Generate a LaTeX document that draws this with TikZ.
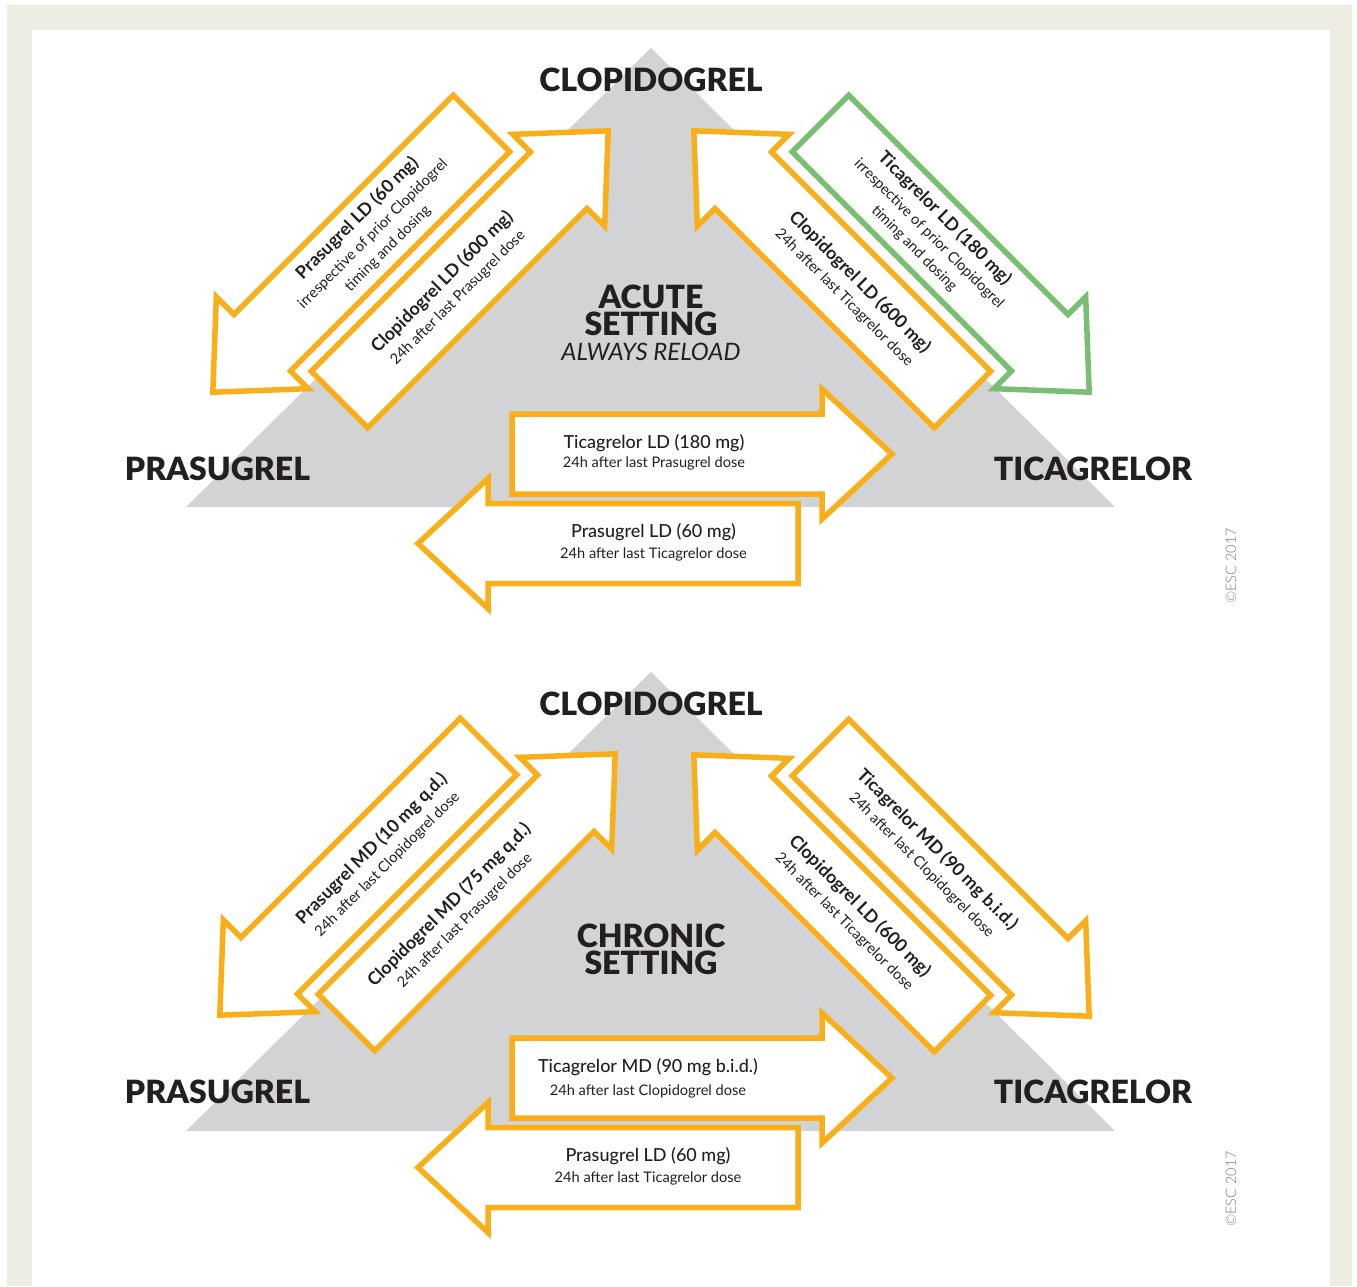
\documentclass[tikz,border=0pt]{standalone}
\usepackage{fontspec}
\setmainfont{Lato}
\IfFontExistsTF{Lato Black}{\newfontfamily\hvfont{Lato Black}}{%
  \IfFontExistsTF{Lato-Black.ttf}{\newfontfamily\hvfont{Lato-Black.ttf}}{%
    \IfFontExistsTF{Lato Heavy}{\newfontfamily\hvfont{Lato Heavy}}{\newcommand\hvfont{\bfseries}}}}
\IfFontExistsTF{Lato Medium}{\newfontfamily\mdfont{Lato Medium}}{\newcommand\mdfont{}}
\IfFontExistsTF{Lato Light}{\newfontfamily\ltfont{Lato Light}}{\newcommand\ltfont{}}
\definecolor{beige}{RGB}{238,237,227}
\definecolor{tri}{RGB}{209,211,212}
\definecolor{org}{RGB}{250,175,25}
\definecolor{grn}{RGB}{122,190,116}
\definecolor{ink}{RGB}{35,31,32}
\definecolor{cpy}{RGB}{125,125,125}
\tikzset{
  barrow/.pic={\path[pic actions] (0,-40) -- (310,-40) -- (310,-65) -- (380,0) -- (310,65) -- (310,40) -- (0,40) -- cycle;},
  ora/.style={draw=org, fill=white, line width=5.5pt, line join=miter, miter limit=10},
  gra/.style={draw=grn, fill=white, line width=5.5pt, line join=miter, miter limit=10},
  drug/.style={font=\hvfont\fontsize{32}{34}\selectfont, text=ink, inner sep=0pt},
  setting/.style={font=\hvfont\fontsize{32}{34}\selectfont, text=ink, inner sep=0pt},
  diag/.style={font=\fontsize{14.7}{21}\selectfont, text=ink, align=center, inner sep=0pt},
  hbig/.style={font=\mdfont\fontsize{18}{20}\selectfont, text=ink, inner sep=0pt, anchor=base},
  hsmall/.style={font=\fontsize{14.6}{16}\selectfont, text=ink, inner sep=0pt, anchor=base},
  cpyr/.style={font=\ltfont\fontsize{14.5}{16}\selectfont, text=cpy, inner sep=0pt, rotate=90},
  tria/.style={fill=tri}
}
\newcommand\bl[1]{{\bfseries\fontsize{17.8}{21}\selectfont #1}}
\begin{document}
\begin{tikzpicture}[x=1pt,y=-1pt]
\fill[white] (0,0) rectangle (1357,1286);
\fill[beige] (7,5) rectangle (1352,1286);
\fill[white] (32,30) rectangle (1330,1286);
\useasboundingbox (0,0) rectangle (1357,1286);

% ================= ACUTE =================
\fill[tria] (651,48) -- (186,507) -- (1115,507) -- cycle;
\pic[ora, rotate=225] (a1) at (481.5,123.5) {barrow};
\pic[ora, rotate=45] (a2) at (339.5,399.5) {barrow};
\pic[ora, rotate=135] (a3) at (962.5,399.5) {barrow};
\pic[gra, rotate=-45] (a4) at (820.5,123.5) {barrow};
\pic[ora, rotate=0] (a5) at (512,454) {barrow};
\pic[ora, rotate=180] (a6) at (798,543.5) {barrow};

\node[drug] (clo1) at (651,80) {CLOPIDOGREL};
\node[drug] (pra1) at (217.5,469) {PRASUGREL};
\node[drug] (tic1) at (1093,469) {TICAGRELOR};
\node[setting] (acu) at (651,296.5) {ACUTE};
\node[setting] (set1) at (651,323.5) {SETTING};
\node[font=\itshape\fontsize{24}{26}\selectfont, text=ink, inner sep=0pt] (rel) at (651,352) {ALWAYS RELOAD};

\node[diag, rotate=45] (t1) at (372,233) {\bl{Prasugrel LD (60 mg)}\\irrespective of prior Clopidogrel\\timing and dosing};
\node[diag, rotate=45] (t2) at (449.5,289.5) {\bl{Clopidogrel LD (600 mg)}\\24h after last Prasugrel dose};
\node[diag, rotate=-45] (t3) at (852.5,289.5) {\bl{Clopidogrel LD (600 mg)}\\24h after last Ticagrelor dose};
\node[diag, rotate=-45] (t4) at (930,233) {\bl{Ticagrelor LD (180 mg)}\\irrespective of prior Clopidogrel\\timing and dosing};
\node[hbig] (t5a) at (654,448) {Ticagrelor LD (180 mg)};
\node[hsmall] (t5b) at (654,467) {24h after last Prasugrel dose};
\node[hbig] (t6a) at (653.5,537) {Prasugrel LD (60 mg)};
\node[hsmall] (t6b) at (653.5,558) {24h after last Ticagrelor dose};
\node[cpyr] (c1) at (1231,566) {\textcopyright ESC 2017};

% ================= CHRONIC =================
\fill[tria] (651,672) -- (186,1131) -- (1115,1131) -- cycle;
\pic[ora, rotate=225] (b1) at (488.5,746.5) {barrow};
\pic[ora, rotate=45] (b2) at (346.5,1022.5) {barrow};
\pic[ora, rotate=135] (b3) at (962.5,1023.5) {barrow};
\pic[ora, rotate=-45] (b4) at (820.5,747.5) {barrow};
\pic[ora, rotate=0] (b5) at (512,1078) {barrow};
\pic[ora, rotate=180] (b6) at (798,1167.5) {barrow};

\node[drug] (clo2) at (651,704) {CLOPIDOGREL};
\node[drug] (pra2) at (217.5,1092) {PRASUGREL};
\node[drug] (tic2) at (1093,1092) {TICAGRELOR};
\node[setting] (chr) at (651,935.5) {CHRONIC};
\node[setting] (set2) at (651,962.5) {SETTING};

\node[diag, rotate=45] (u1) at (379,856) {\bl{Prasugrel MD (10 mg q.d.)}\\24h after last Clopidogrel dose};
\node[diag, rotate=45] (u2) at (456.5,912.5) {\bl{Clopidogrel MD (75 mg q.d.)}\\24h after last Prasugrel dose};
\node[diag, rotate=-45] (u3) at (852.5,913.5) {\bl{Clopidogrel LD (600 mg)}\\24h after last Ticagrelor dose};
\node[diag, rotate=-45] (u4) at (930,857) {\bl{Ticagrelor MD (90 mg b.i.d.)}\\24h after last Clopidogrel dose};
\node[hbig] (u5a) at (648,1072) {Ticagrelor MD (90 mg b.i.d.)};
\node[hsmall] (u5b) at (648,1095) {24h after last Clopidogrel dose};
\node[hbig] (u6a) at (648,1161) {Prasugrel LD (60 mg)};
\node[hsmall] (u6b) at (648,1182) {24h after last Ticagrelor dose};
\node[cpyr] (c2) at (1231,1189) {\textcopyright ESC 2017};
\end{tikzpicture}
\end{document}
